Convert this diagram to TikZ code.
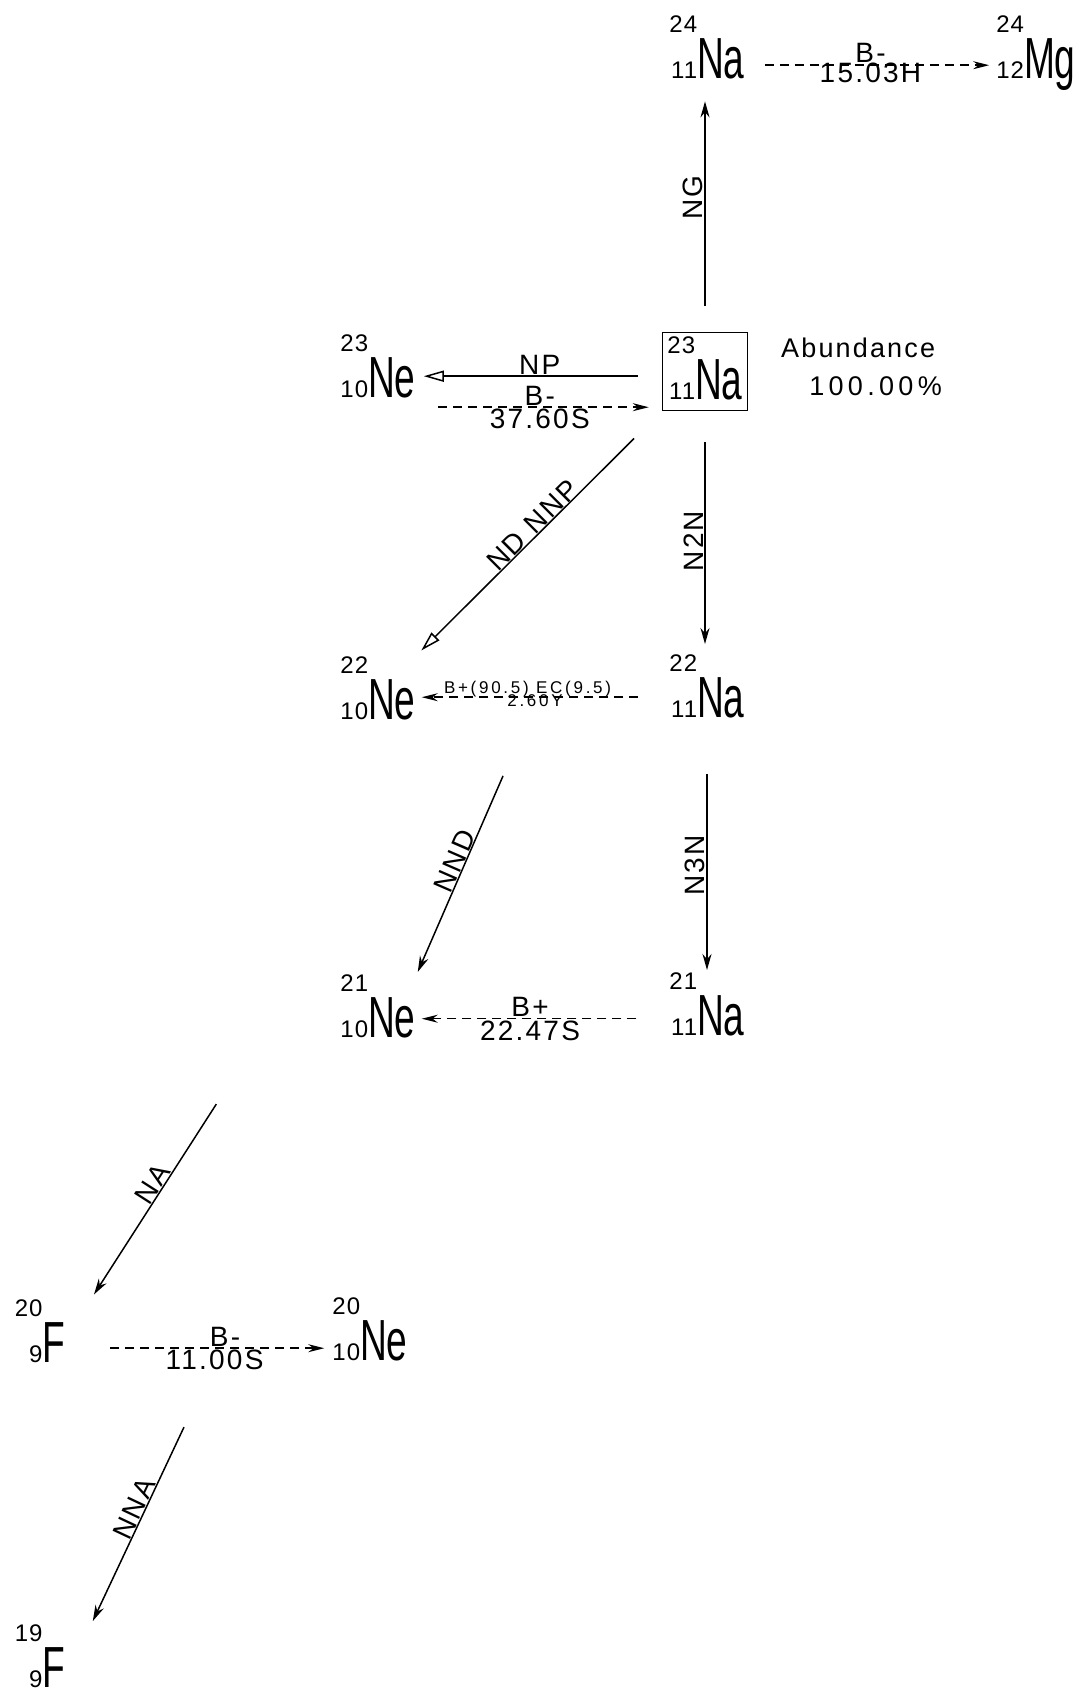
\documentclass[tikz,border=0pt]{standalone}
\usepackage{fontspec}
\setmainfont{Liberation Sans}
\newfontfamily\symfont[FakeStretch=0.64]{Liberation Sans}
\newfontfamily\numfont[LetterSpace=4]{Liberation Sans}
\newfontfamily\labfont[LetterSpace=8]{Liberation Sans}
\newfontfamily\widefont[LetterSpace=16]{Liberation Sans}
\usetikzlibrary{calc,arrows.meta}

% isotope: mass number over charge number, then the symbol
\newcommand{\iso}[3]{{\numfont\fontsize{24}{24}\selectfont
    \begin{tabular}[b]{@{}r@{}}#1\\[22pt]#2\end{tabular}}%
  {\symfont\fontsize{58}{58}\selectfont #3}}

\begin{document}
\begin{tikzpicture}[x=1pt,y=-1pt,
    nucl/.style={anchor=base,inner sep=2pt},
    react/.style={->,line width=1.5pt,>={Stealth[length=16pt,width=9pt]}},
    openreact/.style={react,>={Triangle[open,length=20pt,width=11pt]}},
    decay/.style={->,line width=1.5pt,dash pattern=on 9pt off 6pt,
        >={Stealth[length=16pt,width=8pt]}},
    lab/.style={font=\labfont\fontsize{28}{28}\selectfont,inner sep=1pt},
    uplab/.style={lab,rotate=90,anchor=south},
    smalllab/.style={font=\widefont\fontsize{17}{17}\selectfont,inner sep=1pt},
    biglab/.style={font=\labfont\fontsize{27}{27}\selectfont,inner sep=0pt}]
    \useasboundingbox (0,0) rectangle (1079,1696);

    % --- 1. Isotopes ---
    \node[nucl] (na24) at (707,79) {\iso{24}{11}{Na}};
    \node[nucl] (mg24) at (1036,79) {\iso{24}{12}{Mg}};
    \node[nucl,draw,line width=1.4pt,inner xsep=5pt,inner ysep=4pt] (na23) at (705,399) {\iso{23}{11}{Na}};
    \node[nucl] (ne23) at (378,397) {\iso{23}{10}{Ne}};
    \node[nucl] (ne22) at (378,719) {\iso{22}{10}{Ne}};
    \node[nucl] (na22) at (707,717) {\iso{22}{11}{Na}};
    \node[nucl] (ne21) at (378,1037) {\iso{21}{10}{Ne}};
    \node[nucl] (na21) at (707,1035) {\iso{21}{11}{Na}};
    \node[nucl] (f20) at (40,1362) {\iso{20}{9}{F}};
    \node[nucl] (ne20) at (370,1360) {\iso{20}{10}{Ne}};
    \node[nucl] (f19) at (40,1687) {\iso{19}{9}{F}};

    % abundance of the target
    \node[biglab,anchor=base west] (abund) at (781,357) {Abundance};
    \node[biglab,font=\widefont\fontsize{27}{27}\selectfont,anchor=base east] (abundval) at (942,395) {100.00\%};

    % --- 2. Reactions on 23Na ---
    \draw[react,shorten <=26pt,shorten >=13pt] (na23.north) -- (na23.north |- na24.south)
        node[uplab,pos=0.55] (lng) {NG};
    \draw[openreact,shorten <=24pt,shorten >=6pt] ([yshift=-5pt]na23.west) -- ([yshift=-5pt]na23.west -| ne23.east)
        node[lab,midway,above] (lnp) {NP};
    \draw[openreact,shorten <=39pt,shorten >=5pt] (na23.south west) -- (ne22.north east)
        node[lab,midway,sloped,above=-1pt] (lnd) {ND NNP};
    \draw[react,shorten <=31pt,shorten >=8pt] (na23.south) -- (na23.south |- na22.north)
        node[uplab,pos=0.54] (ln2n) {N2N};
    \draw[react,shorten <=48pt,shorten >=0pt] (na22.south) -- (na22.south |- na21.north)
        node[uplab,pos=0.57] (ln3n) {N3N};
    \draw[react,shorten <=398pt,shorten >=0pt] (na23.south west) -- (ne21.north east)
        node[lab,pos=0.81,sloped,above=-1pt] (lnnd) {NND};
    \draw[react,shorten <=824pt,shorten >=3pt] (na23.south west) -- ([xshift=25pt]f20.north east)
        node[lab,pos=0.879,sloped,above=-1pt] (lna) {NA};
    \draw[react,shorten <=1123pt,shorten >=1pt] (na23.south west) -- ([xshift=25pt]f19.north east)
        node[lab,pos=0.91,sloped,above=-1pt] (lnna) {NNA};

    % --- 3. Decays ---
    \draw[decay,shorten <=18pt,shorten >=5pt] ([yshift=-14pt]na24.east) -- ([yshift=-14pt]na24.east -| mg24.west)
        node[lab,midway,above=1pt] (lb24) {B-} node[lab,midway,below=-4pt] (lt24) {15.03H};
    \draw[decay,shorten <=20pt,shorten >=13pt] ([yshift=-38pt]ne23.east) -- ([yshift=-38pt]ne23.east -| na23.west)
        node[lab,midway,above] (lb23) {B-} node[lab,midway,below] (lt23) {37.60S};
    \draw[decay,shorten <=29pt,shorten >=4pt] ([yshift=-8pt]na22.west) -- ([yshift=-8pt]na22.west -| ne22.east)
        node[smalllab,pos=0.56,above=-2pt] (lb22) {B+(90.5) EC(9.5)} node[smalllab,pos=0.53,below=-4pt] (lt22) {2.60Y};
    \draw[decay,shorten <=31pt,shorten >=4pt] ([yshift=-11.5pt]na21.west) -- ([yshift=-11.5pt]na21.west -| ne21.east)
        node[lab,pos=0.55,above] (lb21) {B+} node[lab,pos=0.55,below] (lt21) {22.47S};
    \draw[decay,shorten <=43pt,shorten >=6pt] ([yshift=-14pt]f20.east) -- ([yshift=-14pt]f20.east -| ne20.west)
        node[lab,pos=0.6,above] (lb20) {B-} node[lab,pos=0.56,below] (lt20) {11.00S};
\end{tikzpicture}
\end{document}
